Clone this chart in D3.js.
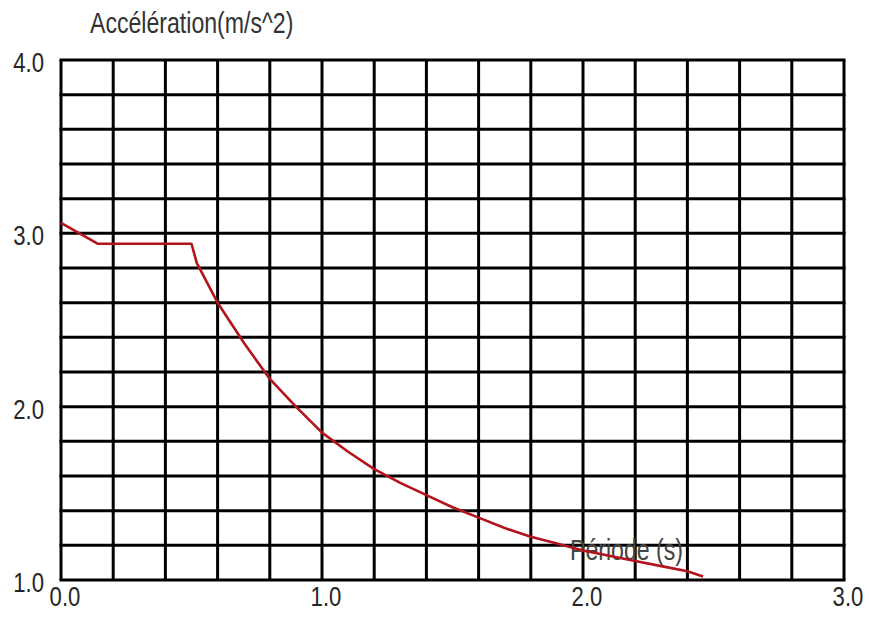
<!DOCTYPE html>
<html>
<head>
<meta charset="utf-8">
<script src="https://cdn.jsdelivr.net/npm/d3@7"></script>
<style>
  body { margin: 0; background: #fff; }
  text { font-family: "Liberation Sans", Arial, sans-serif; }
</style>
</head>
<body>
<script>
periods = [0, 0.14, 0.5, 0.52, 0.6, 0.7, 0.8, 0.9, 1.0, 1.1, 1.2, 1.3, 1.4, 1.5, 1.6, 1.7, 1.8, 1.9, 2.0, 2.1, 2.2, 2.3, 2.4, 2.46];
accels = [3.06, 2.94, 2.94, 2.83, 2.60, 2.37, 2.16, 2.00, 1.85, 1.74, 1.64, 1.56, 1.49, 1.42, 1.36, 1.30, 1.25, 1.21, 1.17, 1.14, 1.11, 1.08, 1.05, 1.02];
xTicks = [0, 1, 2, 3];
yTicks = [1, 2, 3, 4];
gridStep = 0.2;

width = 869;
height = 617;

svg = d3.select("body")
    .append("svg")
    .attr("width", width)
    .attr("height", height);

// Echelles
x = d3.scaleLinear().domain([0, 3]).range([61, 844]);
y = d3.scaleLinear().domain([1, 4]).range([580, 60]);

// Quadrillage (pas de 0.2)
gridX = d3.range(0, 3 + 1e-6, gridStep);
gridY = d3.range(1, 4 + 1e-6, gridStep);

svg.append("g").selectAll("line")
    .data(gridX)
    .enter().append("line")
    .attr("x1", d => x(d)).attr("x2", d => x(d))
    .attr("y1", y(4)).attr("y2", y(1))
    .attr("stroke", "#000")
    .attr("stroke-width", 3);

svg.append("g").selectAll("line")
    .data(gridY)
    .enter().append("line")
    .attr("x1", x(0) - 1.5).attr("x2", x(3) + 1.5)
    .attr("y1", d => y(d)).attr("y2", d => y(d))
    .attr("stroke", "#000")
    .attr("stroke-width", 3);

// Libellés des axes
svg.selectAll("g.ytick")
    .data(yTicks)
    .enter().append("g")
    .attr("class", "ytick")
    .attr("transform", d => `translate(44,${y(d) + 12}) scale(0.82,1)`)
    .append("text")
    .attr("text-anchor", "end")
    .attr("font-size", 27)
    .attr("fill", "#262626")
    .text(d => d.toFixed(1));

svg.selectAll("g.xtick")
    .data(xTicks)
    .enter().append("g")
    .attr("class", "xtick")
    .attr("transform", d => `translate(${x(d) + 4},606) scale(0.82,1)`)
    .append("text")
    .attr("text-anchor", "middle")
    .attr("font-size", 27)
    .attr("fill", "#262626")
    .text(d => d.toFixed(1));

svg.append("g")
    .attr("transform", "translate(90,33) scale(0.77,1)")
    .append("text")
    .attr("font-size", 30)
    .attr("fill", "#333")
    .text("Accélération(m/s^2)");

svg.append("g")
    .attr("transform", "translate(570,560) scale(0.77,1)")
    .append("text")
    .attr("font-size", 30)
    .attr("fill", "#444")
    .text("Période (s)");

// Courbe du spectre
svg.append("path")
    .datum(periods.map((p, i) => [p, accels[i]]))
    .attr("fill", "none")
    .attr("stroke", "#b3131b")
    .attr("stroke-width", 2.6)
    .attr("stroke-linejoin", "round")
    .attr("d", d3.line().x(d => x(d[0])).y(d => y(d[1])));
</script>
</body>
</html>
